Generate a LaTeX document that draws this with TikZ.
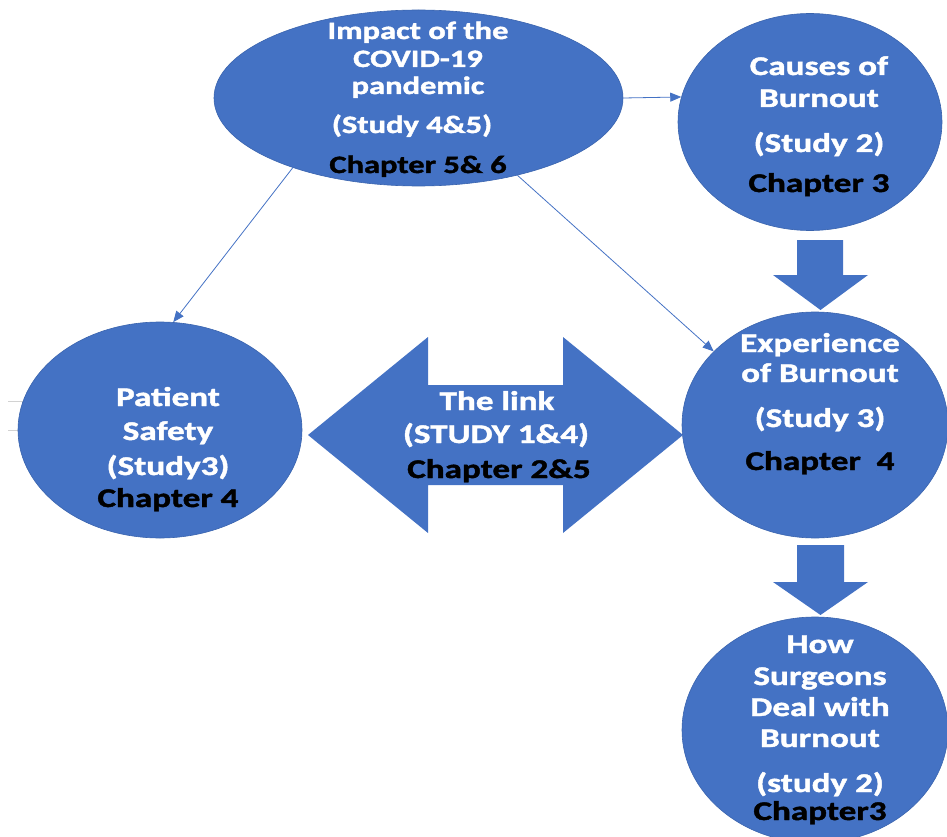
\documentclass[tikz,border=0pt]{standalone}
\usepackage{fontspec}
\setmainfont{Carlito}[FakeStretch=1.3, BoldFeatures={FakeBold=1.6}]
\usetikzlibrary{shapes.geometric,arrows.meta}
\definecolor{bl}{HTML}{4472C4}
\definecolor{bldark}{HTML}{3A64AE}
\tikzset{
  blob/.style={ellipse, fill=bl, draw=bldark, line width=0.6pt, inner sep=0pt},
  wt/.style={text=white, font=\bfseries\fontsize{#1}{#1}\selectfont, anchor=base, inner sep=0pt},
  bk/.style={text=black, font=\bfseries\fontsize{#1}{#1}\selectfont, anchor=base, inner sep=0pt},
  thinarrow/.style={draw=bl, line width=0.8pt, -{Triangle[length=11pt,width=9pt]}},
  blockarrow/.style={fill=bl}
}
\begin{document}
\begin{tikzpicture}[x=1pt,y=-1pt]
\useasboundingbox (0,0) rectangle (947,837);
\clip (0,0) rectangle (947,837);
% small gray bracket at the left edge
\draw[gray!35, line width=0.7pt] (8,401) -- (22,401) -- (22,430) -- (8,430);
% shapes
\node[blob, minimum width=409pt, minimum height=176pt] (imp) at (418.5,98) {};
\node[blob, minimum width=264pt, minimum height=217pt] (causes) at (810,122) {};
\node[blob, minimum width=266pt, minimum height=226pt] (exp) at (815,425) {};
\node[blob, minimum width=266pt, minimum height=226pt] (surg) at (815,730) {};
\node[blob, minimum width=284pt, minimum height=216pt] (pat) at (160,430) {};
% block arrows
\fill[blockarrow] (797,240) -- (843,240) -- (843,275) -- (868,275) -- (820.5,310) -- (773,275) -- (797,275) -- cycle;
\fill[blockarrow] (797,545) -- (844,545) -- (844,582) -- (868,582) -- (820.5,615) -- (773,582) -- (797,582) -- cycle;
\fill[blockarrow] (308,435) -- (428,337) -- (428,385) -- (563,385) -- (563,337) -- (683,435) -- (563,533) -- (563,485) -- (428,485) -- (428,533) -- cycle;
% thin connectors
\draw[thinarrow] (imp.east) -- (causes.169.7);
\draw[thinarrow] (imp.209.2) -- (pat.83.8);
\draw[thinarrow] (imp.-38.4) -- (exp.144.4);
% texts: ellipse
\node[wt=25] (t1) at (418,39) {Impact of the};
\node[wt=25] (t2) at (418,67) {COVID-19};
\node[wt=25] (t3) at (418,94) {pandemic};
\node[wt=25] (t4) at (412,133) {(Study 4\&5)};
\node[bk=25] (t5) at (418,173) {Chapter 5\& 6};
% causes
\node[wt=27] (c1) at (819,75) {Causes of};
\node[wt=27] (c2) at (819,107) {Burnout};
\node[wt=27] (c3) at (819,152) {(Study 2)};
\node[bk=27] (c4) at (819,192) {Chapter 3};
% experience
\node[wt=27] (e1) at (820,352) {Experience};
\node[wt=27] (e2) at (820,382) {of Burnout};
\node[wt=27] (e3) at (820,427) {(Study 3)};
\node[bk=27] (e4) at (820,470) {Chapter\ \ 4};
% surgeons
\node[wt=27] (s1) at (820,653) {How};
\node[wt=27] (s2) at (820,685) {Surgeons};
\node[wt=27] (s3) at (820,716) {Deal with};
\node[wt=27] (s4) at (820,747) {Burnout};
\node[wt=27] (s5) at (820,792) {(study 2)};
\node[bk=27] (s6) at (820,820) {Chapter3};
% patient
\node[wt=27] (p1) at (168,406) {Patient};
\node[wt=27] (p2) at (168,440) {Safety};
\node[wt=27] (p3) at (168,475) {(Study3)};
\node[bk=27] (p4) at (168,507) {Chapter 4};
% link
\node[wt=27] (l1) at (497,410) {The link};
\node[wt=27] (l2) at (496,443) {(STUDY 1\&4)};
\node[bk=27] (l3) at (499,478) {Chapter 2\&5};
\end{tikzpicture}
\end{document}
